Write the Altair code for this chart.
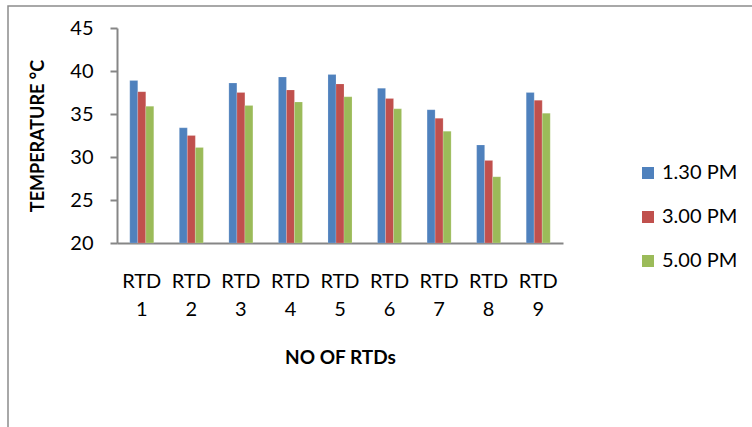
import altair as alt
import pandas as pd

# Temperature readings of the nine RTD sensors at three times of day
rtds = ["RTD 1", "RTD 2", "RTD 3", "RTD 4", "RTD 5", "RTD 6", "RTD 7", "RTD 8", "RTD 9"]
times = ["1.30 PM", "3.00 PM", "5.00 PM"]
temp_130 = [38.9, 33.4, 38.6, 39.3, 39.6, 38.0, 35.5, 31.4, 37.5]
temp_300 = [37.6, 32.5, 37.5, 37.8, 38.5, 36.8, 34.5, 29.6, 36.6]
temp_500 = [35.9, 31.1, 36.0, 36.4, 37.0, 35.6, 33.0, 27.7, 35.1]
colors = ["#4F81BD", "#C0504D", "#9BBB59"]

rows = []
for series, vals in zip(times, [temp_130, temp_300, temp_500]):
    for rtd, v in zip(rtds, vals):
        rows.append({"rtd": rtd, "time": series, "temp": v})
df = pd.DataFrame(rows)

FONT = "Lato"
AXIS_GREY = "#868686"

bars = alt.Chart(df).mark_bar(stroke="white", strokeOpacity=0.35, strokeWidth=0.5).encode(
    x=alt.X(
        "rtd:N",
        sort=rtds,
        scale=alt.Scale(paddingInner=0.515, paddingOuter=0.2575),
        axis=alt.Axis(
            title="NO OF RTDs",
            labelAngle=0,
            labelExpr="split(datum.label, ' ')",
            labelLineHeight=28,
            labelFontSize=20,
            labelPadding=28,
            labelColor="#000000",
            labelBaseline="top",
            ticks=False,
            domainColor=AXIS_GREY,
            domainWidth=2,
            titleFontSize=19,
            titleFontWeight="bold",
            titlePadding=29,
            titleColor="#000000",
        ),
    ),
    xOffset=alt.XOffset("time:N", sort=times),
    y=alt.Y(
        "temp:Q",
        scale=alt.Scale(domain=[20, 45], zero=False, nice=False),
        axis=alt.Axis(
            title="TEMPERATURE °C",
            values=[20, 25, 30, 35, 40, 45],
            grid=False,
            tickSize=7,
            tickColor=AXIS_GREY,
            tickWidth=2,
            domainColor=AXIS_GREY,
            domainWidth=2,
            labelFontSize=20,
            labelPadding=17,
            labelColor="#000000",
            titleFontSize=18,
            titleFontWeight="bold",
            titlePadding=22,
            titleColor="#000000",
        ),
    ),
    y2=alt.Y2(datum=20),
    color=alt.Color(
        "time:N",
        sort=times,
        scale=alt.Scale(domain=times, range=colors),
        legend=alt.Legend(
            title=None,
            orient="none",
            legendX=521,
            legendY=135,
            symbolType="square",
            symbolSize=144,
            symbolStrokeWidth=0,
            labelFontSize=20,
            labelColor="#000000",
            rowPadding=24,
            labelOffset=4,
        ),
    ),
)

# Outer chart frame
frame = alt.Chart(pd.DataFrame({"f": [0]})).mark_rect(
    filled=False, stroke="#8C8C8C", strokeWidth=1.5
).encode(
    x=alt.value(-109),
    x2=alt.value(700),
    y=alt.value(-22),
    y2=alt.value(500),
)

chart = alt.layer(frame, bars).properties(
    width=446,
    height=215,
    autosize=alt.AutoSizeParams(type="none"),
    padding={"left": 117, "top": 28, "right": 189, "bottom": 184},
).configure(font=FONT).configure_view(stroke=None)

chart.save("out.html", embed_options={"renderer": "svg", "actions": False})
